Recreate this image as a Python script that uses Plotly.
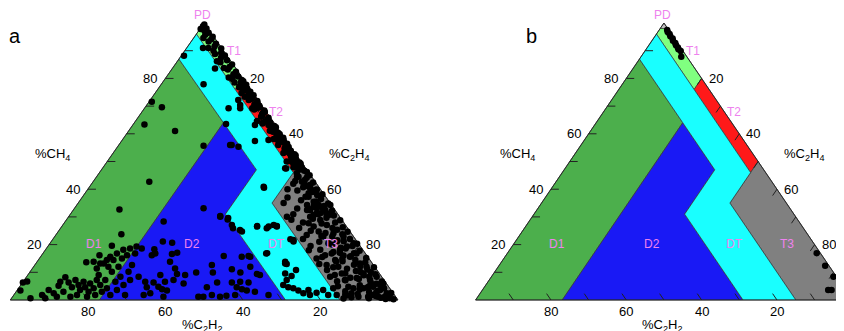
import plotly.graph_objects as go

# ---------------- data ----------------
tick_values = [10, 20, 30, 40, 50, 60, 70, 80, 90]
label_values = [20, 40, 60, 80]
left_labels_a = [20, 40, 80]          # the 60 label is not visible in panel a

# Duval triangle zones: vertices as (CH4 %, C2H4 %)
pd_ch4 = [98, 100, 98]
pd_c2h4 = [2, 0, 0]
t1_ch4 = [98, 98, 96, 76, 80]
t1_c2h4 = [2, 0, 0, 20, 20]
t2_ch4 = [80, 76, 46, 50]
t2_c2h4 = [20, 20, 50, 50]
t3_ch4 = [50, 35, 0, 0]
t3_c2h4 = [50, 50, 85, 100]
d1_ch4 = [87, 0, 0, 64]
d1_c2h4 = [0, 0, 23, 23]
d2_ch4 = [64, 0, 0, 31, 47]
d2_c2h4 = [23, 23, 71, 40, 40]
dt_ch4 = [96, 87, 64, 47, 31, 0, 0, 35, 46, 76]
dt_c2h4 = [0, 0, 23, 40, 40, 71, 85, 50, 50, 20]

zone_names = ["PD", "T1", "T2", "T3", "D1", "D2", "DT"]
zone_colors = ["rgb(192,192,192)", "rgb(128,255,128)", "rgb(255,25,25)",
               "rgb(128,128,128)", "rgb(76,175,76)", "rgb(25,25,245)",
               "rgb(25,255,255)"]

# panel a samples: (CH4 %, C2H2 %)
a_points = [
    # right-edge band
    (99.5,0.2),(98.8,0.9),(98.0,0.4),(97.3,1.3),(96.5,0.6),(95.8,1.8),(95.0,0.3),(94.1,1.1),(93.3,2.2),(92.5,0.7),
    (91.6,1.5),(90.8,0.2),(90.0,2.6),(89.2,1.0),(88.3,0.5),(87.5,1.9),(86.6,0.8),(85.8,2.9),(85.0,0.3),(84.1,1.4),
    (83.2,2.3),(82.4,0.6),(81.5,1.7),(80.7,0.9),(79.8,2.8),(79.0,0.4),(78.1,1.3),(77.3,2.1),(76.4,0.7),(75.6,1.6),
    (74.7,3.0),(73.9,0.3),(73.0,1.1),(72.2,2.4),(71.3,0.6),(70.5,1.8),(69.6,0.9),(68.8,2.7),(67.9,0.4),(67.1,1.5),
    (66.2,2.2),(65.4,0.8),(64.5,1.9),(63.7,3.1),(62.8,0.5),(62.0,1.3),(61.1,2.5),(60.3,0.7),(59.4,1.6),(58.6,0.3),
    (57.7,2.1),(56.9,1.0),(56.0,2.9),(55.2,0.6),(54.3,1.4),(53.5,2.3),(52.6,0.4),(51.8,1.7),(50.9,0.9),(50.1,2.6),
    (49.2,0.5),(48.4,1.2),(47.5,2.0),(46.7,0.8),(45.8,3.2),(45.0,0.3),(44.1,1.5),(43.3,2.4),(42.4,0.7),(41.6,1.8),
    (40.7,4.1),(39.9,1.0),(39.0,2.7),(38.2,0.4),(37.3,5.2),(36.5,1.6),(35.6,3.3),(34.8,0.6),(33.9,2.1),(33.1,4.4),
    (32.2,0.9),(31.4,2.8),(30.5,1.3),(29.7,3.6),(28.8,0.5),(28.0,2.2),(27.1,4.8),(26.3,1.1),(25.4,3.0),(24.6,0.7),
    (23.7,2.5),(22.9,5.5),(22.0,1.4),(21.2,3.4),(20.3,0.4),(19.5,2.0),(18.6,4.2),(17.8,1.0),(16.9,2.9),(16.1,6.0),
    (15.2,0.6),(14.4,3.8),(13.5,1.7),(12.7,5.0),(11.8,0.3),(11.0,2.4),(10.1,4.6),(9.3,1.2),(8.4,3.2),(7.6,6.3),
    (6.7,0.8),(5.9,2.6),(5.0,4.9),(4.2,1.5),(3.3,3.5),(2.5,0.5),(1.6,2.1),(0.8,4.0),(0.3,1.0),
    # dense T1 / T2 band
    (79.4,0.6),(78.6,1.2),(77.7,0.3),(76.9,1.0),(76.0,1.8),(75.2,0.5),(74.3,1.3),(73.5,0.8),(72.6,1.6),(71.8,0.4),
    (70.9,1.2),(70.1,0.7),(69.2,1.9),(68.4,0.3),(67.5,1.1),(66.6,1.7),(65.8,0.5),(64.9,1.3),(64.1,0.9),(63.2,1.8),
    (62.4,0.3),(61.5,1.0),(60.7,1.9),(59.8,0.6),(59.0,1.3),(58.1,0.8),(57.3,1.7),(56.4,0.4),(55.6,1.2),(54.7,1.9),
    (53.9,0.7),(53.0,1.5),(52.2,0.3),(51.3,1.1),(50.5,1.8),(49.6,0.6),(48.8,1.4),(47.9,0.9),(47.1,1.6),(46.2,0.4),
    (97.8,2.0),(94.6,2.9),(91.0,3.4),(88.8,2.8),(86.2,3.6),(83.8,3.0),(80.3,3.5),(78.5,2.9),
    (76.8,2.6),(73.4,2.8),(69.2,3.0),(64.0,2.9),(58.1,3.0),(53.1,3.0),(47.9,3.0),
    # T3 cloud
    (44.5,3.8),(43.0,5.0),(41.2,2.9),(39.5,6.2),(38.5,3.8),(36.0,7.0),(34.3,4.5),(32.8,6.4),(31.0,5.1),(29.3,7.3),
    (27.6,5.9),(26.0,3.9),(24.2,6.6),(23.1,8.2),(21.6,4.8),(20.0,7.0),(18.9,5.3),(17.3,8.0),(15.8,4.3),(14.9,6.9),
    (13.9,9.0),(12.2,3.6),(11.3,7.5),(10.5,5.6),(9.6,8.8),(8.9,4.4),(7.9,6.7),(7.1,10.0),(6.2,3.9),(5.3,7.2),
    (4.6,5.5),(3.8,8.0),(2.9,6.0),(2.2,9.3),(1.4,5.0),(0.6,7.2),(1.0,11.5),(0.4,3.0),(2.0,12.6),(0.5,13.8),
    (32.5,7.2),(30.1,7.6),(33.7,4.9),(31.3,5.3),(28.9,5.6),(33.1,2.7),(30.7,3.0),(34.3,0.3),(27.7,9.2),(26.5,8.5),
    (24.7,8.1),(22.9,7.8),(20.5,7.7),(24.1,4.6),(21.1,5.2),(18.1,5.9),(22.9,2.6),(19.3,3.5),(15.6,4.6),(20.5,1.2),
    (16.8,2.3),(13.2,3.2),(9.6,4.1),(12.0,2.1),(7.2,3.6),(4.8,4.0),(8.4,1.3),(3.6,2.8),(6.0,0.8),(2.4,1.7),
    (16.8,8.7),(14.4,9.0),(12.0,9.4),(9.6,9.7),(7.2,10.1),(4.8,10.4),(2.4,10.8),(12.6,12.1),(8.4,13.3),(4.2,14.6),
    (1.8,14.9),(4.2,9.4),(1.2,9.6),(4.2,6.8),(1.2,7.1),(1.8,5.5),(1.2,4.5),(1.2,2.8),(0.6,1.8),(18.1,11.0),
    (15.0,13.5),(16.2,10.7),(44.5,3.4),(42.7,3.4),(41.5,3.2),(40.3,2.5),(39.1,2.6),(39.7,1.5),(37.9,1.9),(37.3,4.4),
    (35.5,4.0),(34.3,3.3),(33.5,2.9),(34.3,6.3),(32.5,6.4),(30.7,6.4),(31.3,4.4),(32.5,2.5),(30.7,2.5),(50.0,3.7),
    (49.4,2.3),(57.8,0.6),
    (42.0,6.0),(40.0,8.5),(37.0,10.0),(35.0,12.0),(33.0,9.5),(31.0,11.5),(29.0,13.0),(28.0,10.5),(26.0,12.5),(25.0,10.0),
    (23.5,11.8),(22.0,13.5),(21.0,9.8),(19.5,12.8),(18.0,14.0),(17.0,6.5),(15.5,11.8),(14.0,7.3),(13.0,13.8),(11.8,10.8),
    (10.8,12.9),(10.0,2.0),(9.0,11.8),(8.0,8.3),(6.8,12.3),(5.6,1.8),(5.0,13.0),(3.2,12.0),(2.8,4.2),(1.6,12.4),
    # DT
    (13.8,22.2),(13.0,22.2),(8.7,23.1),(10.8,20.9),(21.9,16.8),(21.1,16.4),(5.4,26.9),(4.6,26.0),(4.2,24.9),(3.4,24.0),
    (2.4,23.2),(3.6,21.3),(1.8,21.8),(2.6,19.7),(27.1,18.5),(26.7,17.9),(3.6,17.5),(1.8,17.1),
    (88.2,11.1),(91.0,4.8),(83.6,5.4),(77.9,11.2),(72.2,5.1),(63.5,12.6),(69.2,9.1),(70.4,5.5),(56.0,14.9),(55.3,13.5),
    (57.4,8.2),(64.6,4.1),(57.8,4.5),(40.5,14.3),(47.5,5.1),(40.9,14.2),(69.2,6.1),(63.2,5.3),(56.0,15.3),(30.1,30.8),
    (29.6,29.0),(25.3,28.1),(26.5,23.1),(25.9,20.9),(26.5,18.0),(30.1,13.6),(21.7,16.1),(13.2,22.5),(16.9,25.3),(15.6,30.3),
    (9.6,24.3),(7.2,25.1),(47.6,5.3),
    # D2
    (33.1,33.6),(30.3,30.7),(29.1,29.4),(27.1,29.3),(25.9,29.6),(28.3,46.3),(24.7,27.9),(26.7,23.0),(26.5,20.1),(21.1,50.1),
    (20.7,47.9),(18.3,53.7),(16.8,54.2),(16.2,55.4),(16.6,50.0),(17.1,48.4),(13.8,51.9),(11.4,51.8),(18.6,56.8),(15.9,37.0),
    (15.6,32.5),(15.9,30.6),(16.8,25.6),(12.0,32.1),(12.6,41.7),(11.1,37.3),(9.9,47.1),(9.9,42.8),(9.9,35.7),(9.4,31.7),
    (9.0,31.1),(9.0,56.8),(9.4,52.3),(9.0,50.4),(6.6,61.9),(6.3,59.9),(6.6,56.8),(7.2,54.3),(6.0,52.3),(6.3,43.5),
    (6.3,39.7),(6.6,37.4),(6.3,35.4),(4.6,62.5),(4.8,59.4),(3.9,58.9),(3.4,57.9),(4.6,47.0),(4.6,39.3),(3.9,38.3),
    (3.4,37.3),(3.0,35.4),(1.8,64.7),(2.4,62.7),(1.2,59.9),(1.2,50.9),(1.2,49.6),(1.8,47.1),(1.2,45.3),(1.5,43.5),
    (1.8,41.1),(1.8,32.5),
    # D1
    (6.3,93.6),(6.7,92.3),(3.4,95.7),(0.6,94.5),(0.6,90.7),(5.1,85.0),(6.6,83.8),(8.2,81.7),(6.3,81.8),(4.6,81.8),
    (7.2,79.6),(5.4,79.7),(3.6,80.2),(6.6,77.8),(4.6,78.4),(3.0,78.3),(6.0,76.4),(4.2,76.4),(1.8,77.2),(7.2,74.1),
    (9.0,72.7),(5.4,74.1),(3.0,74.9),(13.2,69.3),(7.2,71.9),(4.2,73.0),(12.0,68.7),(1.8,73.3),(10.2,68.7),(14.4,66.2),
    (6.6,69.6),(3.6,70.7),(12.0,66.1),(8.4,67.4),(15.0,63.7),(5.4,68.1),(1.8,69.5),(16.2,61.8),(10.2,64.4),(7.2,65.5),
    (12.6,62.3),(16.8,59.4),(19.3,57.8),(8.4,62.7),(2.4,87.6),(1.2,87.4),(3.0,84.8),(1.2,83.9),(1.8,81.9),(1.2,79.6),
    (3.6,88.3),(1.8,90.9),(13.2,70.2),(13.8,71.6),(11.4,72.0),(14.4,67.9),(15.6,66.4),(16.8,64.1),(18.1,61.8),(18.6,59.8),
    (32.7,55.5),(23.7,59.5),(19.6,64.0),(16.2,68.9),(13.6,73.6),(71.6,27.7),(69.6,26.1),(63.4,33.7),(61.0,27.0),(42.7,42.8),
    (55.7,22.3),
]
a_ch4 = [p[0] for p in a_points]
a_c2h2 = [p[1] for p in a_points]

# panel b samples: (CH4 %, C2H2 %)
b_ch4 = [97.5, 96.8, 96.0, 95.2, 94.4, 93.6, 92.8, 92.0, 91.2, 90.5, 89.9, 87.8,
         16.9, 12.4, 8.4, 4.8, 3.6, 3.6, 2.0, 1.0]
b_c2h2 = [0.4, 0.6, 0.5, 0.7, 0.5, 0.8, 0.6, 0.8, 0.7, 0.9, 0.6, 1.5,
          1.0, 1.0, 0.8, 0.7, 4.6, 3.7, 1.5, 2.5]

# ---------------- figure ----------------
FONT = "Liberation Sans, Arial, sans-serif"
zones = [(pd_ch4, pd_c2h4), (t1_ch4, t1_c2h4), (t2_ch4, t2_c2h4), (t3_ch4, t3_c2h4),
         (d1_ch4, d1_c2h4), (d2_ch4, d2_c2h4), (dt_ch4, dt_c2h4)]


def proj(ch4, c2h4):
    """ternary (CH4 top, C2H4 right, C2H2 left) -> cartesian"""
    return c2h4 + ch4 / 2.0, ch4


fig = go.Figure()
annotations = []

panels = [("x", "y", a_ch4, a_c2h2, left_labels_a, "a", -0.593, "left"),
          ("x2", "y2", b_ch4, b_c2h2, label_values, "b", 14.8, "center")]

for xr, yr, ch4s, c2h2s, lefts, letter, letter_x, letter_anchor in panels:
    for (zc, ze), col in zip(zones, zone_colors):
        xs, ys = [], []
        for c, e in zip(zc, ze):
            x, y = proj(c, e)
            xs.append(x)
            ys.append(y)
        xs.append(xs[0]); ys.append(ys[0])
        fig.add_trace(go.Scatter(x=xs, y=ys, mode="lines", fill="toself", fillcolor=col,
                                 line=dict(color="#333333", width=0.7),
                                 xaxis=xr, yaxis=yr, hoverinfo="skip"))
    # outline
    ox, oy = [], []
    for c, e in [(100, 0), (0, 100), (0, 0), (100, 0)]:
        x, y = proj(c, e)
        ox.append(x); oy.append(y)
    fig.add_trace(go.Scatter(x=ox, y=oy, mode="lines", line=dict(color="#222222", width=0.9),
                             xaxis=xr, yaxis=yr, hoverinfo="skip"))
    # ticks
    L = 2.3
    Lh = 2.1
    tx, ty = [], []
    for v in tick_values:
        x0, y0 = proj(v, 0)               # left side, CH4 = v
        tx += [x0, x0 + Lh, None]; ty += [y0, y0, None]
        x0, y0 = proj(100 - v, v)         # right side, C2H4 = v
        tx += [x0, x0 - 0.5 * L, None]; ty += [y0, y0 - L, None]
        x0, y0 = proj(0, 100 - v)         # bottom, C2H2 = v
        tx += [x0, x0 - 0.5 * L, None]; ty += [y0, y0 + L, None]
    fig.add_trace(go.Scatter(x=tx, y=ty, mode="lines", line=dict(color="#222222", width=1),
                             xaxis=xr, yaxis=yr, hoverinfo="skip"))
    # samples
    px, py = [], []
    for c, a in zip(ch4s, c2h2s):
        x, y = proj(c, 100 - c - a)
        px.append(x); py.append(y)
    fig.add_trace(go.Scatter(x=px, y=py, mode="markers",
                             marker=dict(color="black", size=6.5, line=dict(width=0)),
                             xaxis=xr, yaxis=yr, hoverinfo="skip"))

    tfont = dict(family=FONT, size=13, color="black")
    for v in lefts:
        x, y = proj(v, 0)
        annotations.append(dict(x=x, y=y, xref=xr, yref=yr, text=str(v), showarrow=False,
                                xanchor="right", yanchor="middle", xshift=-6, font=tfont))
    for v in label_values:
        x, y = proj(100 - v, v)
        annotations.append(dict(x=x, y=y, xref=xr, yref=yr, text=str(v), showarrow=False,
                                xanchor="left", yanchor="middle", xshift=5, font=tfont))
        x, y = proj(0, 100 - v)
        annotations.append(dict(x=x, y=y, xref=xr, yref=yr, text=str(v), showarrow=False,
                                xanchor="center", yanchor="top", yshift=-2, font=tfont))
    # axis titles
    for txt, x, y in [("%CH<sub>4</sub>", 11.0, 52.5), ("%C<sub>2</sub>H<sub>4</sub>", 87.3, 52.5),
                      ("%C<sub>2</sub>H<sub>2</sub>", 49.4, -9.3)]:
        annotations.append(dict(x=x, y=y, xref=xr, yref=yr, text=txt, showarrow=False,
                                xanchor="center", yanchor="middle", font=tfont))
    # zone labels
    zl = {"PD": (49.6, 103.0), "T1": (57.6, 90.0), "T2": (68.6, 68.0), "D1": (21.7, 20.2),
          "D2": (46.9, 20.2), "DT": (68.7, 20.2), "T3": (82.7, 20.2)}
    for name in zone_names:
        x, y = zl[name]
        annotations.append(dict(x=x, y=y, xref=xr, yref=yr, text=name, showarrow=False,
                                xanchor="center", yanchor="middle",
                                font=dict(family=FONT, size=12, color="rgb(238,130,238)")))
    annotations.append(dict(x=letter_x, y=95.3, xref=xr, yref=yr, text=letter, showarrow=False,
                            xanchor=letter_anchor, yanchor="middle", borderpad=0,
                            font=dict(family=FONT, size=20, color="black")))

# the page body adds an 8 px offset; ranges are set so the drawing lands where the reference has it
ax_common = dict(visible=False, showgrid=False, zeroline=False, fixedrange=True)
fig.update_layout(
    width=844, height=331, autosize=False,
    margin=dict(l=0, r=0, t=0, b=0),
    paper_bgcolor="white", plot_bgcolor="white",
    showlegend=False,
    xaxis=dict(domain=[0, 0.5], range=[-0.593, 108.26], anchor="y", **ax_common),
    yaxis=dict(domain=[0, 1], range=[-14.08, 105.42], anchor="x", **ax_common),
    xaxis2=dict(domain=[0.5, 1], range=[-12.105, 99.92], anchor="y2", **ax_common),
    yaxis2=dict(domain=[0, 1], range=[-14.08, 105.42], anchor="x2", **ax_common),
    annotations=annotations,
)

fig.write_html("out.html")
